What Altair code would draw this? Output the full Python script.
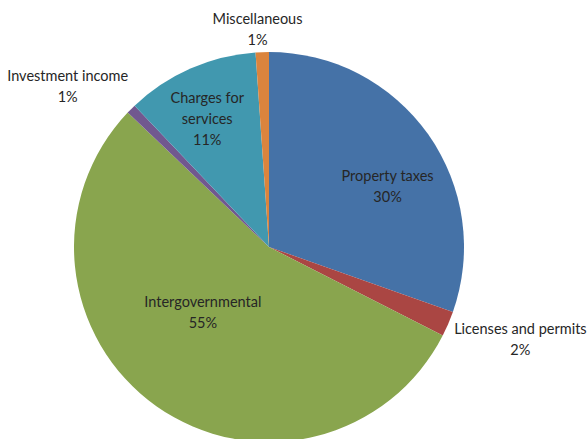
import math
import altair as alt
import pandas as pd

# Revenue sources, clockwise from 12 o'clock
categories = ["Property taxes", "Licenses and permits", "Intergovernmental",
              "Investment income", "Charges for services", "Miscellaneous"]
shares = [30.4, 2.1, 54.6, 0.8, 11.0, 1.1]
label_text = ["Property taxes", "Licenses and permits", "Intergovernmental",
              "Investment income", "Charges for\nservices", "Miscellaneous"]
colors = ["#4572A7", "#AA4643", "#89A54E", "#71588F", "#4198AF", "#DB843D"]

W, H = 587, 439
CX, CY, R = 269, 247, 195
LINE_H = 21

# label placement: distance from centre along the slice midpoint, plus a nudge
label_radius = [133, 267, 92, 255, 141, 217]
label_nudge = [(10, 17), (6, -12), (-13, -9), (-21, 21), (-5, 2), (-4, 0)]

total = sum(shares)
rows = []
cum = 0.0
for i, (cat, v) in enumerate(zip(categories, shares)):
    mid = (cum + v / 2) / total * 2 * math.pi
    cum += v
    r = label_radius[i]
    nx, ny = label_nudge[i]
    pct = round(v / total * 100)
    text = f"{label_text[i]}\n{pct}%"
    n_lines = text.count("\n") + 1
    rows.append({
        "idx": i,
        "category": cat,
        "value": v,
        "label": text,
        "lx": CX + r * math.sin(mid) + nx,
        # first line sits at the anchor, so lift multi-line blocks to centre them
        "ly": CY - r * math.cos(mid) + ny - (n_lines - 1) * LINE_H / 2,
    })
df = pd.DataFrame(rows)

pie = alt.Chart(df).mark_arc(outerRadius=R, stroke=None).encode(
    theta=alt.Theta("value:Q", stack=True),
    order=alt.Order("idx:Q", sort="ascending"),
    color=alt.Color("category:N", scale=alt.Scale(domain=categories, range=colors), legend=None),
    x=alt.value(CX),
    y=alt.value(CY),
)

labels = alt.Chart(df).mark_text(
    font="Lato", fontSize=14.5, color="#262626", align="center",
    baseline="middle", lineBreak="\n", lineHeight=LINE_H,
).encode(
    x=alt.X("lx:Q", scale=None),
    y=alt.Y("ly:Q", scale=None),
    text="label:N",
)

chart = alt.layer(pie, labels).properties(
    width=W, height=H, padding=0, autosize=alt.AutoSizeParams(type="none"),
    background="white",
).configure_view(stroke=None)

chart.save("out.html", embed_options={"renderer": "svg", "actions": False})
